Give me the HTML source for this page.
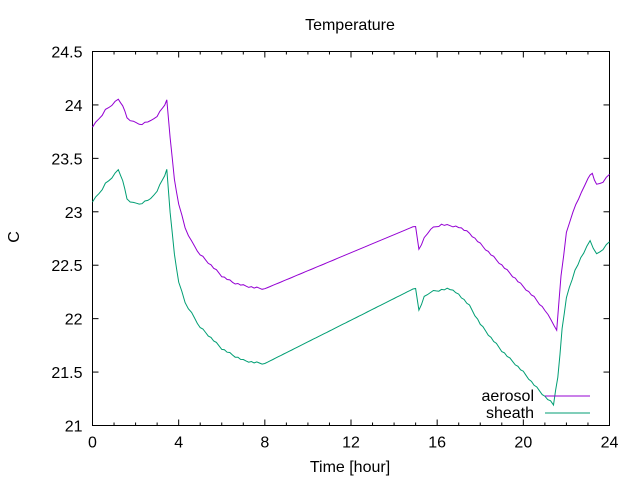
<!DOCTYPE html>
<html><head><meta charset="utf-8"><style>
html,body{margin:0;padding:0;background:#fff;width:640px;height:480px;overflow:hidden}
svg{font-family:"Liberation Sans","DejaVu Sans",sans-serif;font-size:16px}
</style></head><body>
<svg id="s" width="640" height="480" viewBox="0 0 640 480" xmlns="http://www.w3.org/2000/svg">
<rect width="640" height="480" fill="#fff"/>
<g id="ax" stroke="#000" stroke-width="1" fill="none"></g>
<g id="lbl" fill="#000"></g>
<text x="350" y="30" text-anchor="middle">Temperature</text>
<text x="350" y="472" text-anchor="middle">Time [hour]</text>
<text transform="translate(19,237) rotate(-90)" text-anchor="middle">C</text>
<polyline id="a" fill="none" stroke="#9400d3" stroke-width="1"/>
<polyline id="b" fill="none" stroke="#009e73" stroke-width="1"/>
<text x="534" y="401" text-anchor="end">aerosol</text>
<text x="534" y="418" text-anchor="end">sheath</text>
<line x1="545" y1="396" x2="590" y2="396" stroke="#9400d3" stroke-width="1"/>
<line x1="545" y1="413" x2="590" y2="413" stroke="#009e73" stroke-width="1"/>
</svg>
<script>
var L=92.5,R=609.5,T=51.5,B=425.5;
function X(h){return L+h*(R-L)/24}
function Y(v){return B-(v-21)*(B-T)/3.5}
var ax=document.getElementById('ax'),lb=document.getElementById('lbl'),ns='http://www.w3.org/2000/svg';
function el(p,t,a){var e=document.createElementNS(ns,t);for(var k in a)e.setAttribute(k,a[k]);p.appendChild(e);return e}
el(ax,'rect',{x:L,y:T,width:R-L,height:B-T});
for(var h=0;h<=24;h++){var big=h%4==0,x=X(h);
el(ax,'line',{x1:x,y1:B,x2:x,y2:B-(big?6:3)});el(ax,'line',{x1:x,y1:T,x2:x,y2:T+(big?6:3)});
if(big){var t=el(lb,'text',{x:x,y:B+22,'text-anchor':'middle'});t.textContent=h;}}
for(var i=0;i<=7;i++){var v=21+i*0.5,y=Y(v);
el(ax,'line',{x1:L,y1:y,x2:L+6,y2:y});el(ax,'line',{x1:R,y1:y,x2:R-6,y2:y});
var t=el(lb,'text',{x:L-10,y:y+6,'text-anchor':'end'});t.textContent=(v%1==0?v:v.toFixed(1));}
var A=[[0,23.8],[0.3,23.87],[0.6,23.95],[0.9,24.0],[1.2,24.05],[1.4,24.0],[1.6,23.88],[1.9,23.84],[2.3,23.82],[2.7,23.85],[3.0,23.9],[3.25,23.97],[3.45,24.04],[3.6,23.7],[3.8,23.3],[4.0,23.08],[4.3,22.85],[4.6,22.72],[5,22.6],[5.5,22.5],[6,22.4],[6.5,22.34],[7,22.31],[7.5,22.29],[8,22.28],[15,22.87],[15.15,22.65],[15.4,22.75],[15.7,22.84],[16.2,22.88],[17,22.86],[17.5,22.8],[18,22.7],[18.5,22.6],[19,22.5],[19.5,22.4],[20,22.3],[20.5,22.2],[21,22.08],[21.3,21.98],[21.55,21.9],[21.75,22.4],[22,22.8],[22.3,23.0],[22.7,23.18],[23,23.32],[23.2,23.36],[23.4,23.25],[23.7,23.28],[24,23.35]];
var S=[[0,23.1],[0.3,23.17],[0.6,23.26],[0.9,23.32],[1.2,23.39],[1.4,23.3],[1.6,23.12],[1.9,23.08],[2.3,23.08],[2.7,23.12],[3.0,23.2],[3.25,23.3],[3.45,23.39],[3.6,23.0],[3.8,22.6],[4.0,22.35],[4.3,22.15],[4.6,22.05],[5,21.92],[5.5,21.82],[6,21.72],[6.5,21.66],[7,21.61],[7.5,21.59],[8,21.58],[15,22.29],[15.15,22.08],[15.4,22.2],[15.7,22.25],[16.2,22.27],[16.6,22.28],[17,22.23],[17.5,22.12],[18,21.95],[18.5,21.82],[19,21.7],[19.5,21.6],[20,21.5],[20.5,21.38],[21,21.27],[21.4,21.2],[21.6,21.45],[21.8,21.9],[22,22.2],[22.4,22.45],[22.8,22.62],[23.1,22.73],[23.4,22.6],[23.7,22.65],[24,22.72]];
function pts(D){var o=[];for(var i=0;i<D.length-1;i++){var a=D[i],b=D[i+1],n=Math.max(1,Math.round((b[0]-a[0])*8));for(var k=0;k<n;k++){var f=k/n,h=a[0]+(b[0]-a[0])*f,v=a[1]+(b[1]-a[1])*f;if(b[0]-a[0]<2)v+=((i*7+k*13)%5-2)*0.004;o.push(X(h).toFixed(1)+','+Y(v).toFixed(1));}}var l=D[D.length-1];o.push(X(l[0])+','+Y(l[1]));return o.join(' ')}
document.getElementById('a').setAttribute('points',pts(A));
document.getElementById('b').setAttribute('points',pts(S));
</script>
</body></html>
